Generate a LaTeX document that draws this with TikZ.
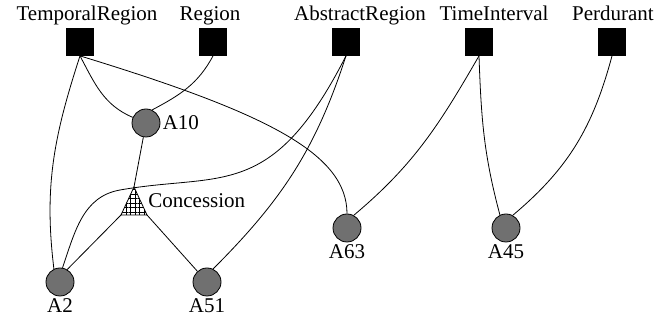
\documentclass[tikz,border=0pt]{standalone}
\usepackage{fontspec}
\setmainfont{Liberation Serif}
\usetikzlibrary{patterns.meta}
\definecolor{argfill}{RGB}{112,112,112}

\begin{document}
\begin{tikzpicture}[x=1pt,y=1pt,line width=0.8pt,
        font=\fontsize{21}{25}\selectfont,
        every label/.style={inner sep=2pt},
        concept/.style={draw,fill=black,minimum size=27pt,inner sep=0pt,label distance=0pt},
        arg/.style={circle,draw,fill=argfill,minimum size=28pt,inner sep=0pt,label distance=4pt},
        relation/.style={draw,preaction={fill=white},pattern={Hatch[angle=0,distance=4.5pt,line width=0.8pt]}}]
                \useasboundingbox (0,0) rectangle (672,320);
                \node[concept,label={[xshift=7pt,text depth=5.25pt]above:TemporalRegion}] (tr) at (80,278) {};
                \node[concept,label={[xshift=-3pt,text depth=5.25pt]above:Region}] (reg) at (213,278) {};
                \node[concept,label={[xshift=14pt,text depth=5.25pt]above:AbstractRegion}] (abs) at (346,278) {};
                \node[concept,label={[xshift=15pt,text depth=5.25pt]above:TimeInterval}] (ti) at (479,278) {};
                \node[concept,label={[xshift=1pt,text depth=5.25pt]above:Perdurant}] (perd) at (612,278) {};
                \node[arg,label=right:A10] (a10) at (146,197) {};
                \node[arg,label=below:A2] (a2) at (60,38) {};
                \node[arg,label=below:A51] (a51) at (207,38) {};
                \node[arg,label=below:A63] (a63) at (347,92) {};
                \node[arg,label=below:A45] (a45) at (506,92) {};
                \draw[relation] (134,133) coordinate (conc-top) -- (121,105) coordinate (conc-left) -- (147,105) coordinate (conc-right) -- cycle;
                \node[anchor=west,inner sep=1pt] (conc) at (147,119) {Concession};
                \coordinate (bend) at (120,130);
                \draw (tr.south) to[out=-108,in=97] (a2.115);
                \draw (tr.south) to[out=-62,in=157] (a10);
                \draw (tr.south) to[out=-17,in=90,out looseness=1.6,in looseness=0.5] (a63);
                \draw (reg.south) to[out=-118,in=28] (a10.65);
                \draw (a10) -- (conc-top);
                \draw (abs.south) to[out=-117,in=10,out looseness=1.6] (bend) to[out=190,in=71] (a2.80);
                \draw (abs.south) to[out=-108,in=45] (a51.65);
                \draw (conc-left) -- (a2.60);
                \draw (conc-right) -- (a51);
                \draw (ti.south) to[out=-120,in=40] (a63.62);
                \draw (ti.south) to[out=-88,in=105] (a45.115);
                \draw (perd.south) to[out=-105,in=40] (a45.62);
            \end{tikzpicture}
\end{document}
